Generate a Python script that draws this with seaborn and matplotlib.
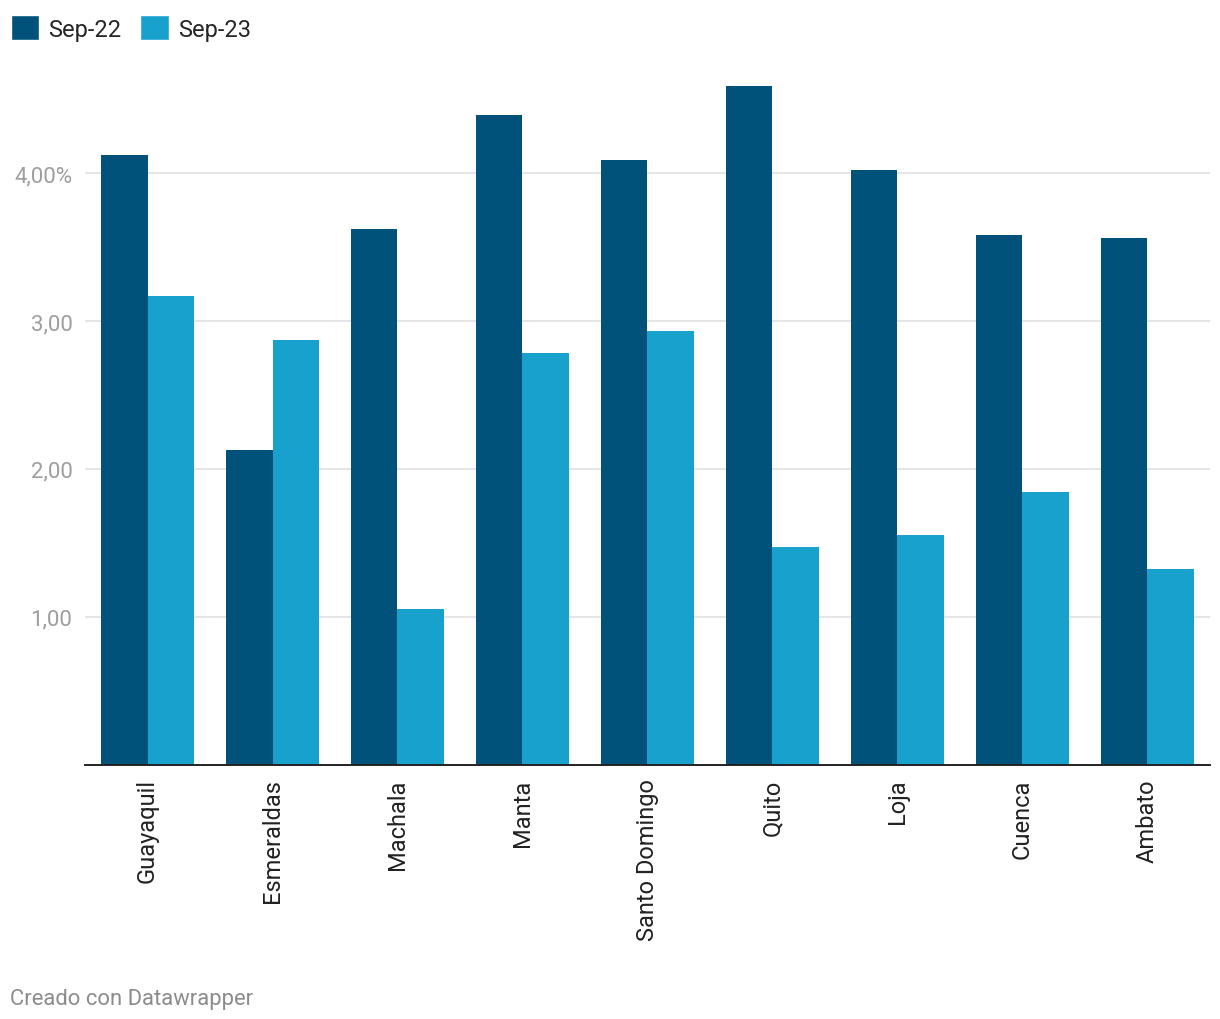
import pandas as pd
import matplotlib.pyplot as plt
import seaborn as sns
from matplotlib.patches import Patch

# data
ciudades = ["Guayaquil", "Esmeraldas", "Machala", "Manta", "Santo Domingo",
            "Quito", "Loja", "Cuenca", "Ambato"]
sep22 = [4.12, 2.13, 3.62, 4.39, 4.09, 4.59, 4.02, 3.58, 3.56]
sep23 = [3.17, 2.87, 1.05, 2.78, 2.93, 1.47, 1.55, 1.84, 1.32]
series = ["Sep-22", "Sep-23"]
colores = ["#00527a", "#19a1ce"]

df = pd.DataFrame({"ciudad": ciudades * 2,
                   "serie": [series[0]] * len(ciudades) + [series[1]] * len(ciudades),
                   "valor": sep22 + sep23})

sns.set_style("white")
plt.rcParams["font.family"] = ["Roboto", "DejaVu Sans"]

fig = plt.figure(figsize=(12.2, 10.2), dpi=100)
ax = fig.add_axes([0.0697, 0.2495, 0.922, 0.6885])

sns.barplot(data=df, x="ciudad", y="valor", hue="serie", palette=colores,
            width=0.75, saturation=1, linewidth=0, ax=ax, legend=False)

ax.set_ylim(0, 4.75)
ax.set_xlim(-0.5, len(ciudades) - 0.5)
ax.set_yticks([1, 2, 3, 4])
ax.set_yticklabels(["1,00", "2,00", "3,00", "4,00%"], color="#9e9e9e", fontsize=16)
ax.yaxis.grid(True, color="#e3e3e3", linewidth=1.3)
ax.set_axisbelow(True)
ax.tick_params(axis="y", length=0, pad=9)
ax.tick_params(axis="x", length=0, pad=10)
plt.setp(ax.get_xticklabels(), rotation=90, fontsize=17, color="#222222", va="top")
ax.set_xlabel("")
ax.set_ylabel("")
for s in ["top", "right", "left"]:
    ax.spines[s].set_visible(False)
ax.spines["bottom"].set_color("#222222")
ax.spines["bottom"].set_linewidth(1.4)

handles = [Patch(facecolor=c, label=l) for c, l in zip(colores, series)]
fig.legend(handles=handles, loc="upper left", bbox_to_anchor=(0.0, 0.995), ncol=2,
           frameon=False, fontsize=17, handlelength=1.2, handleheight=1.3,
           handletextpad=0.4, columnspacing=0.8, borderaxespad=0.0,
           borderpad=0.45)

fig.text(0.008, 0.015, "Creado con Datawrapper", color="#8c8c8c", fontsize=15.8)

fig.savefig("out.png", dpi=100, facecolor="white")
